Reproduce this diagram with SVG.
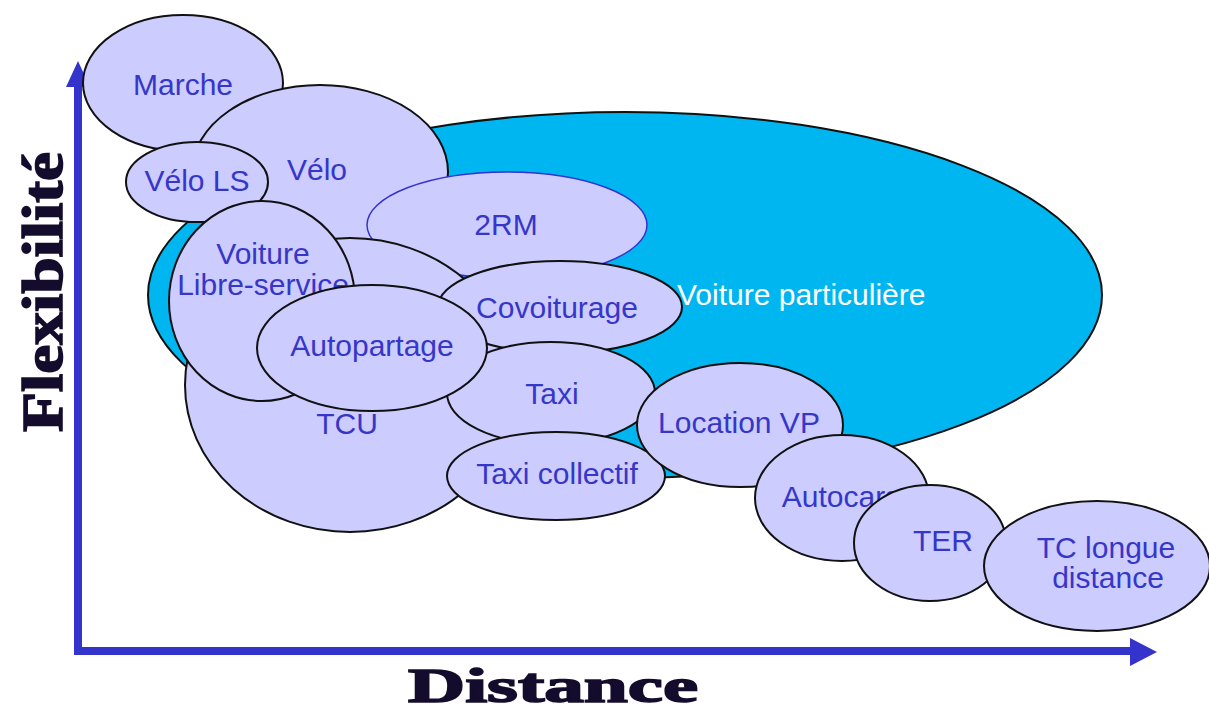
<svg xmlns="http://www.w3.org/2000/svg" width="1209" height="712" viewBox="0 0 1209 712">
<style>
.n{fill:#ccccff;stroke:#111;stroke-width:2}
.t{font-family:"Liberation Sans",Arial,sans-serif;font-size:30px;fill:#3636c8;text-anchor:middle}
.ax{font-family:"Liberation Serif","Times New Roman",serif;font-weight:bold;fill:#140c2c;stroke:#140c2c;stroke-width:1.6}
</style>
<rect width="1209" height="712" fill="#fff"/>
<g id="axes">
<path d="M78,86 V651 H1132" fill="none" stroke="#3434cc" stroke-width="8"/>
<polygon points="66,87 78,61 90,87" fill="#3434cc"/>
<polygon points="1130,638 1157,652 1130,666" fill="#3434cc"/>
<text class="ax" x="408" y="702" font-size="48" textLength="290" lengthAdjust="spacingAndGlyphs">Distance</text>
<text class="ax" transform="translate(62,432) rotate(-90)" x="0" y="0" font-size="56" textLength="280" lengthAdjust="spacingAndGlyphs">Flexibilité</text>
</g>
<g id="voiture-particuliere">
<ellipse cx="625" cy="295" rx="477" ry="183" fill="#00b6f0" stroke="#111" stroke-width="2"/>
<text class="t" x="677" y="305" style="fill:#fff;text-anchor:start">Voiture particulière</text>
</g>
<g id="marche"><ellipse class="n" cx="183" cy="83" rx="100" ry="68"/><text class="t" x="183" y="95">Marche</text></g>
<g id="velo"><ellipse class="n" cx="320" cy="172" rx="128" ry="87"/><text class="t" x="317" y="180">Vélo</text></g>
<g id="velo-ls"><ellipse class="n" cx="197" cy="182" rx="71" ry="40"/><text class="t" x="197" y="191">Vélo LS</text></g>
<g id="deux-rm"><ellipse cx="507" cy="225" rx="140" ry="53" fill="#ccccff" stroke="#3434cc" stroke-width="1.5"/><text class="t" x="506" y="235">2RM</text></g>
<g id="tcu"><ellipse class="n" cx="350" cy="385" rx="165" ry="147"/><text class="t" x="347" y="434">TCU</text></g>
<g id="voiture-ls"><ellipse class="n" cx="262" cy="301" rx="93" ry="100"/><text class="t" x="263" y="264">Voiture</text><text class="t" x="263" y="295">Libre-service</text></g>
<g id="covoiturage"><ellipse class="n" cx="560" cy="307" rx="122" ry="46"/><text class="t" x="557" y="318">Covoiturage</text></g>
<g id="taxi"><ellipse class="n" cx="551" cy="393" rx="104" ry="51"/><text class="t" x="552" y="404">Taxi</text></g>
<g id="autopartage"><ellipse class="n" cx="372" cy="348" rx="115" ry="63"/><text class="t" x="372" y="356">Autopartage</text></g>
<g id="taxi-collectif"><ellipse class="n" cx="556" cy="476" rx="109" ry="44"/><text class="t" x="557" y="484">Taxi collectif</text></g>
<g id="location-vp"><ellipse class="n" cx="740" cy="425" rx="103" ry="62"/><text class="t" x="739" y="433">Location VP</text></g>
<g id="autocars"><ellipse class="n" cx="842" cy="498" rx="87" ry="63"/><text class="t" x="841" y="507">Autocars</text></g>
<g id="ter"><ellipse class="n" cx="930" cy="543" rx="76" ry="58"/><text class="t" x="943" y="551">TER</text></g>
<g id="tc-longue-distance"><ellipse class="n" cx="1097" cy="566" rx="113" ry="65"/><text class="t" x="1106" y="558">TC longue</text><text class="t" x="1108" y="588">distance</text></g>
</svg>
